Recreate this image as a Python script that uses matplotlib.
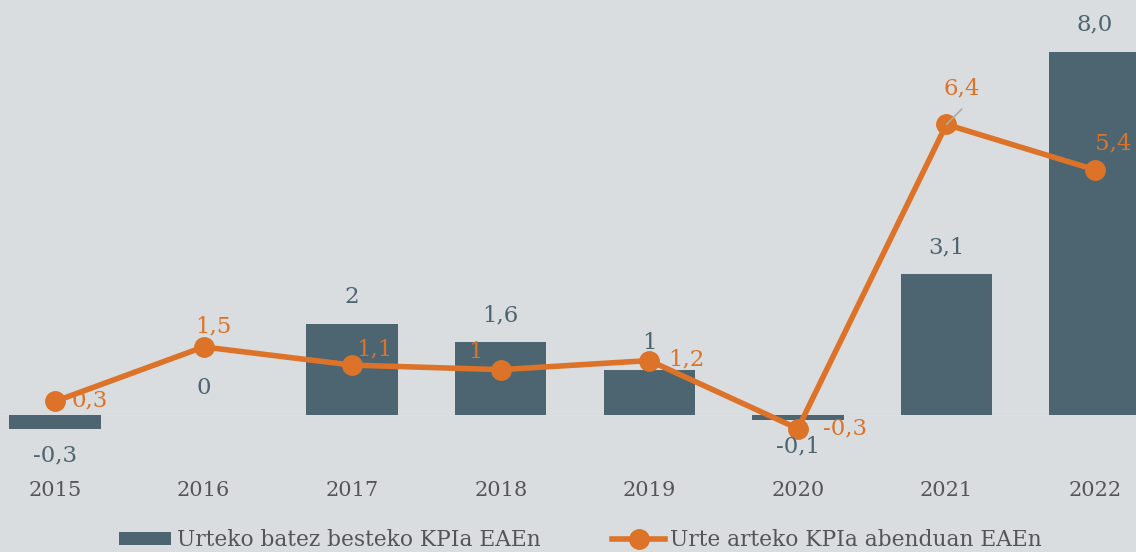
import numpy as np
import matplotlib.pyplot as plt
from matplotlib.patches import Patch
from matplotlib.lines import Line2D

years = ['2015', '2016', '2017', '2018', '2019', '2020', '2021', '2022']
urteko = [-0.3, 0, 2, 1.6, 1, -0.1, 3.1, 8.0]
urteko_lbl = ['-0,3', '0', '2', '1,6', '1', '-0,1', '3,1', '8,0']
abendua = [0.3, 1.5, 1.1, 1, 1.2, -0.3, 6.4, 5.4]
abendua_lbl = ['0,3', '1,5', '1,1', '1', '1,2', '-0,3', '6,4', '5,4']

bg = '#d9dde0'
slate = '#4d6570'
orange = '#dc7328'
grey_txt = '#555555'

plt.rcParams['font.family'] = ['DejaVu Serif']

fig = plt.figure(figsize=(11.36, 5.52), dpi=100, facecolor=bg)
ax = fig.add_axes([0, (552-470)/552, 1, 470/552])
ax.set_facecolor(bg)

x = np.arange(len(years))
ax.bar(x, urteko, width=0.615, color=slate, zorder=2)
ax.axhline(0, color='#e4dcd8', lw=0.8, zorder=1)
ax.plot(x, abendua, color=orange, lw=4, marker='o', ms=14, zorder=3)

# bar value labels
for xi, v, t in zip(x, urteko, urteko_lbl):
    off = 27 if v >= 0 else -27
    ax.annotate(t, (xi, v), xytext=(0, off * 0.72), textcoords='offset points',
                ha='center', va='center', color=slate, fontsize=16.5)

# line value labels (offsets in pixels, scaled to points)
offs = [(35, 1), (10, 20), (22, 16), (-25, 18), (37, 1), (47, 0), (15, 36), (18, 26)]
for xi, v, t, (dx, dy) in zip(x, abendua, abendua_lbl, offs):
    ax.annotate(t, (xi, v), xytext=(dx * 0.72, dy * 0.72), textcoords='offset points',
                ha='center', va='center', color=orange, fontsize=16.5, zorder=4)

# leader line for 2021 label
ax.annotate('', (x[6], abendua[6]), xytext=(11, 11), textcoords='offset points',
            arrowprops=dict(arrowstyle='-', color='#aaaaaa', lw=1.2,
                            shrinkA=0, shrinkB=0), zorder=4)

ax.set_xlim(-0.37, 7.276)
ax.set_ylim(-1.21, 9.14)
ax.set_xticks(x)
ax.set_xticklabels(years, fontsize=15, color=grey_txt)
ax.tick_params(axis='x', length=0, pad=8)
ax.set_yticks([])
for s in ax.spines.values():
    s.set_visible(False)

handles = [Patch(facecolor=slate, edgecolor='none'),
           Line2D([0], [0], color=orange, lw=4, marker='o', ms=14)]
labels = ['Urteko batez besteko KPIa EAEn', 'Urte arteko KPIa abenduan EAEn']
leg = fig.legend(handles, labels, loc='center', bbox_to_anchor=(0.511, 0.022),
                 ncol=2, frameon=False, fontsize=15.7, handlelength=2.4,
                 handleheight=0.55, handletextpad=0.25, columnspacing=3.3)
for t in leg.get_texts():
    t.set_color(grey_txt)

fig.savefig('out.png', dpi=100, facecolor=bg)
